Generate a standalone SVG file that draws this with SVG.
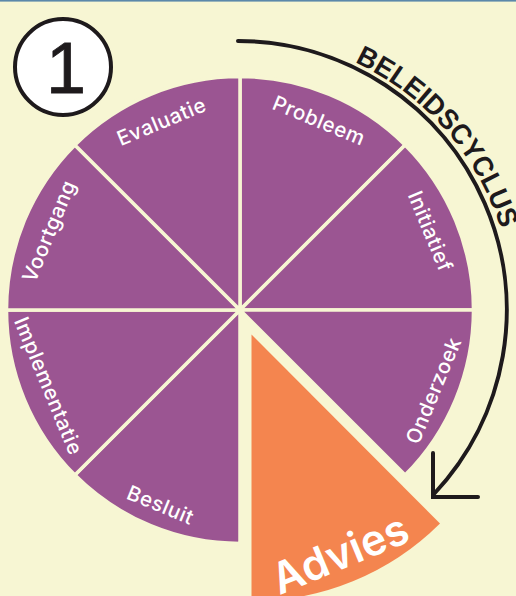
<svg xmlns="http://www.w3.org/2000/svg" width="516" height="596" viewBox="0 0 516 596">
<style>
.seg{fill:#9B5592;stroke:#F7F6D3;stroke-width:3.5;stroke-linejoin:miter}
.adv{fill:#F4854F}
.lbl{font-family:Inter,"Open Sans","Liberation Sans",sans-serif;font-weight:500;font-size:20.5px;fill:#FFFFFF;letter-spacing:0.6px;text-anchor:middle}
.big{font-family:Inter,"Liberation Sans",sans-serif;font-weight:600;font-size:43px;fill:#FFFFFF;text-anchor:middle}
.conn{fill:none;stroke:#1E1A1C;stroke-width:4;stroke-linecap:round;stroke-linejoin:miter}
.cyc{font-family:"Liberation Sans",Arial,sans-serif;font-weight:700;font-size:28px;fill:#1E1A1C}
</style>
<defs>
<path id="cycpath" d="M351,60.6 A273,273 0 0 1 507,253.2"/>
</defs>
<rect x="0" y="0" width="516" height="596" fill="#F7F6D3"/>
<rect x="0" y="0" width="516" height="1.6" fill="#5B88AA"/>

<g id="badge">
<circle cx="63" cy="67" r="48" fill="#FFFFFF" stroke="#1E1A1C" stroke-width="4"/>
<text x="66" y="93" font-family="'Liberation Sans',Arial,sans-serif" font-size="72" fill="#1E1A1C" text-anchor="middle" stroke="#1E1A1C" stroke-width="0.8">1</text>
</g>

<g id="probleem">
<path class="seg" d="M240,310 L240,76.5 A233.5,233.5 0 0 1 405.11,144.89 Z"/>
<text class="lbl" x="319" y="120.6" dy="0.35em" transform="rotate(22.5 319 120.6)">Probleem</text>
</g>
<g id="initiatief">
<path class="seg" d="M240,310 L405.11,144.89 A233.5,233.5 0 0 1 473.5,310 Z"/>
<text class="lbl" x="430.3" y="231.2" dy="0.35em" transform="rotate(67.5 430.3 231.2)">Initiatief</text>
</g>
<g id="onderzoek">
<path class="seg" d="M240,310 L473.5,310 A233.5,233.5 0 0 1 405.11,475.11 Z"/>
<text class="lbl" x="433.5" y="390.5" dy="0.35em" transform="rotate(-67.5 433.5 390.5)">Onderzoek</text>
</g>
<g id="besluit">
<path class="seg" d="M240,310 L240,543.5 A233.5,233.5 0 0 1 74.89,475.11 Z"/>
<text class="lbl" x="160.5" y="505" dy="0.35em" transform="rotate(22.5 160.5 505)">Besluit</text>
</g>
<g id="implementatie">
<path class="seg" d="M240,310 L74.89,475.11 A233.5,233.5 0 0 1 6.5,310 Z"/>
<text class="lbl" x="48.5" y="386" dy="0.35em" transform="rotate(67.5 48.5 386)">Implementatie</text>
</g>
<g id="voortgang">
<path class="seg" d="M240,310 L6.5,310 A233.5,233.5 0 0 1 74.89,144.89 Z"/>
<text class="lbl" x="49" y="231" dy="0.35em" transform="rotate(-67.5 49 231)">Voortgang</text>
</g>
<g id="evaluatie">
<path class="seg" d="M240,310 L74.89,144.89 A233.5,233.5 0 0 1 240,76.5 Z"/>
<text class="lbl" x="161.5" y="121.5" dy="0.35em" transform="rotate(-22.5 161.5 121.5)">Evaluatie</text>
</g>
<g id="advies">
<path class="adv" d="M251.5,334.5 L440,523.5 A266.6,266.6 0 0 1 251.5,601.1 Z"/>
<text class="big" x="340" y="554" dy="0.35em" transform="rotate(-22.5 340 554)">Advies</text>
</g>

<g id="connectors">
<path class="conn" d="M238,41 A269,269 0 0 1 434,494"/>
<path class="conn" d="M433,453 L433,497 L478,497"/>
<text class="cyc"><textPath href="#cycpath" startOffset="4" textLength="228" lengthAdjust="spacingAndGlyphs">BELEIDSCYCLUS</textPath></text>
</g>
</svg>
